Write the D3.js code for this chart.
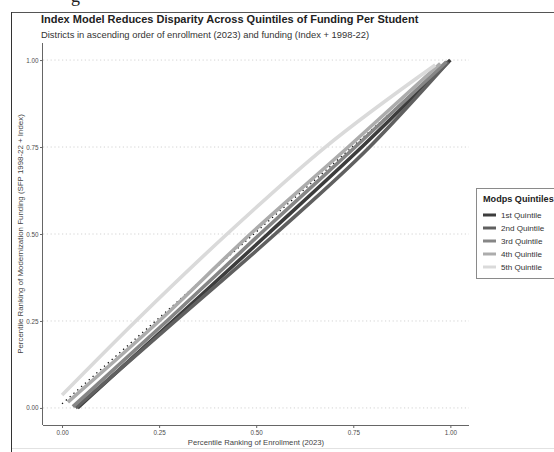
<!DOCTYPE html>
<html>
<head>
<meta charset="utf-8">
<script src="https://cdn.jsdelivr.net/npm/d3@7"></script>
<style>
  body { margin: 0; background: #fff; }
  svg { display: block; font-family: "Liberation Sans", Arial, sans-serif; }
  .tick text { fill: #4d4d4d; }
</style>
</head>
<body>
<div id="chart"></div>
<script>
// values (percentile of enrollment vs percentile of funding)
const quintiles = ["1st Quintile", "2nd Quintile", "3rd Quintile", "4th Quintile", "5th Quintile"]

const q1Enroll = [0.040, 0.285, 0.530, 0.772, 1.000]
const q1Funding = [0.000, 0.250, 0.500, 0.750, 1.000]
const q2Enroll = [0.035, 0.292, 0.549, 0.792, 0.995]
const q2Funding = [0.000, 0.250, 0.500, 0.750, 0.995]
const q3Enroll = [0.028, 0.270, 0.510, 0.755, 0.990]
const q3Funding = [0.004, 0.250, 0.500, 0.750, 0.995]
const q4Enroll = [0.015, 0.250, 0.485, 0.737, 0.974]
const q4Funding = [0.017, 0.250, 0.500, 0.750, 0.990]
const q5Enroll = [0.000, 0.190, 0.425, 0.678, 0.961]
const q5Funding = [0.037, 0.250, 0.500, 0.750, 0.986]

const refEnroll = [0.000, 0.995]
const refFunding = [0.012, 0.995]

const xTicks = [0, 0.25, 0.5, 0.75, 1]
const yTicks = [0, 0.25, 0.5, 0.75, 1]

const series = [
    { name: quintiles[0], x: q1Enroll, y: q1Funding },
    { name: quintiles[1], x: q2Enroll, y: q2Funding },
    { name: quintiles[2], x: q3Enroll, y: q3Funding },
    { name: quintiles[3], x: q4Enroll, y: q4Funding },
    { name: quintiles[4], x: q5Enroll, y: q5Funding },
]

const width = 554
const height = 452
const panel = { left: 43, right: 469, top: 43, bottom: 425 }

const color = d3.scaleOrdinal()
    .domain(quintiles)
    .range(["#3d3d3d", "#606060", "#868686", "#acacac", "#dadada"])

const x = d3.scaleLinear()
    .domain([-0.049, 1.048])
    .range([panel.left, panel.right])

const y = d3.scaleLinear()
    .domain([-0.049, 1.049])
    .range([panel.bottom, panel.top])

const svg = d3.select("#chart")
    .append("svg")
    .attr("width", width)
    .attr("height", height)

// page frame the chart was cut from
svg.append("text")
    .attr("x", 71)
    .attr("y", 2)
    .attr("font-family", "Liberation Serif, serif")
    .attr("font-size", 18)
    .attr("fill", "#222")
    .text("g")
svg.append("line")
    .attr("x1", 11.5).attr("x2", width)
    .attr("y1", 12.5).attr("y2", 12.5)
    .attr("stroke", "#555")
svg.append("line")
    .attr("x1", 11.5).attr("x2", 11.5)
    .attr("y1", 12).attr("y2", height)
    .attr("stroke", "#333")
svg.append("line")
    .attr("x1", 12).attr("x2", width)
    .attr("y1", 448.5).attr("y2", 448.5)
    .attr("stroke", "#e2e2e2")

// titles
svg.append("text")
    .attr("x", 41)
    .attr("y", 23)
    .attr("font-size", 11)
    .attr("font-weight", "bold")
    .attr("fill", "#222")
    .text("Index Model Reduces Disparity Across Quintiles of Funding Per Student")

svg.append("text")
    .attr("x", 41)
    .attr("y", 37.5)
    .attr("font-size", 9.4)
    .attr("fill", "#333")
    .text("Districts in ascending order of enrollment (2023) and funding (Index + 1998-22)")

// grid
svg.append("g")
    .selectAll("line")
    .data(yTicks)
    .join("line")
    .attr("x1", panel.left)
    .attr("x2", panel.right)
    .attr("y1", d => y(d))
    .attr("y2", d => y(d))
    .attr("stroke", "#c8c8c8")
    .attr("stroke-width", 0.8)
    .attr("stroke-dasharray", "1.2,2.6")

// axes
const xAxis = g => g
    .attr("transform", `translate(0,${panel.bottom})`)
    .call(d3.axisBottom(x).tickValues(xTicks).tickFormat(d3.format(".2f")).tickSize(3).tickSizeOuter(0).tickPadding(3))
    .call(g => g.select(".domain").attr("d", `M${panel.left},0.5H${panel.right}`).attr("stroke", "#666"))
    .call(g => g.selectAll(".tick line").attr("stroke", "#666"))
    .call(g => g.selectAll(".tick text").attr("font-size", 6.3))

const yAxis = g => g
    .attr("transform", `translate(${panel.left},0)`)
    .call(d3.axisLeft(y).tickValues(yTicks).tickFormat(d3.format(".2f")).tickSize(3).tickSizeOuter(0).tickPadding(1.5))
    .call(g => g.select(".domain").attr("d", `M-0.5,${panel.top}V${panel.bottom}`).attr("stroke", "#666"))
    .call(g => g.selectAll(".tick line").attr("stroke", "#666"))
    .call(g => g.selectAll(".tick text").attr("font-size", 6.3))

svg.append("g").call(xAxis).attr("font-family", null)
svg.append("g").call(yAxis).attr("font-family", null)

svg.append("text")
    .attr("x", 256)
    .attr("y", 445)
    .attr("text-anchor", "middle")
    .attr("font-size", 7.7)
    .attr("fill", "#444")
    .text("Percentile Ranking of Enrollment (2023)")

svg.append("text")
    .attr("transform", `translate(22.5,${(panel.top + panel.bottom) / 2}) rotate(-90)`)
    .attr("text-anchor", "middle")
    .attr("font-size", 7.9)
    .attr("fill", "#444")
    .text("Percentile Ranking of Modernization Funding (SFP 1998-22 + Index)")

// lines
const line = d3.line()
    .x(d => x(d[0]))
    .y(d => y(d[1]))
    .curve(d3.curveMonotoneX)

// equality reference sits under the quintile lines
svg.append("path")
    .attr("d", line(refEnroll.map((v, i) => [v, refFunding[i]])))
    .attr("fill", "none")
    .attr("stroke", "#111")
    .attr("stroke-width", 1.3)
    .attr("stroke-dasharray", "1.3,3.8")

svg.append("g")
    .selectAll("path")
    .data(series)
    .join("path")
    .attr("d", s => line(s.x.map((v, i) => [v, s.y[i]])))
    .attr("fill", "none")
    .attr("stroke", s => color(s.name))
    .attr("stroke-width", 3.6)

// legend
const legend = svg.append("g")
    .attr("transform", "translate(476,188)")

legend.append("rect")
    .attr("x", 0.5)
    .attr("y", 0.5)
    .attr("width", 90)
    .attr("height", 90)
    .attr("fill", "#fff")
    .attr("stroke", "#8a8a8a")

legend.append("text")
    .attr("x", 7)
    .attr("y", 14)
    .attr("font-size", 9.1)
    .attr("font-weight", "bold")
    .attr("fill", "#222")
    .text("Modps Quintiles")

const items = legend.selectAll(".item")
    .data(quintiles)
    .join("g")
    .attr("class", "item")
    .attr("transform", (d, i) => `translate(0,${27 + i * 13})`)

items.append("line")
    .attr("x1", 7)
    .attr("x2", 20)
    .attr("stroke", d => color(d))
    .attr("stroke-width", 3)

items.append("text")
    .attr("x", 25)
    .attr("y", 2.8)
    .attr("font-size", 8.1)
    .attr("fill", "#333")
    .text(d => d)
</script>
</body>
</html>
